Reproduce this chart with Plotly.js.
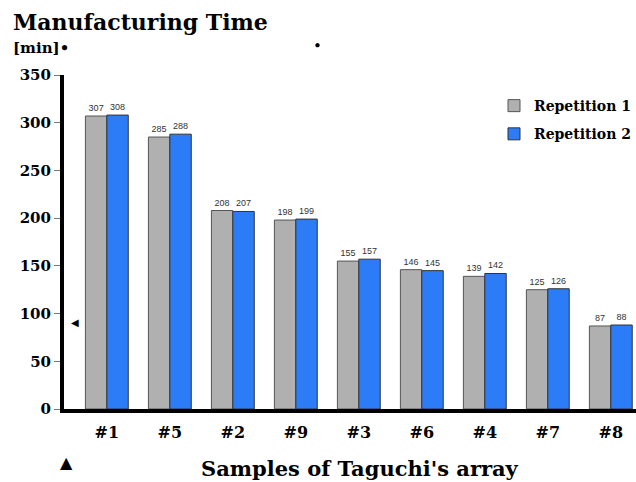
<!DOCTYPE html>
<html><head><meta charset="utf-8">
<script src="https://cdn.plot.ly/plotly-3.0.1.min.js"></script>
<style>html,body{margin:0;padding:0;background:#fff}</style>
</head><body><div id="chart" style="width:636px;height:482px"></div>
<script>
const samples = ["#1","#5","#2","#9","#3","#6","#4","#7","#8"];
const rep1 = [307,285,208,198,155,146,139,125,87];
const rep2 = [308,288,207,199,157,145,142,126,88];
const yTicks = [0,50,100,150,200,250,300,350];

const serif = "DejaVu Serif";
const labelFont = {family:"Liberation Sans, Arial, sans-serif", size:9, color:"#333"};

const traces = [
  {type:"bar", name:"Repetition 1", x:samples, y:rep1, text:rep1.map(String), legendgroup:"a",
   textposition:"outside", textfont:labelFont, cliponaxis:false,
   marker:{color:"#b0b0b0", line:{color:"#555", width:1}}},
  {type:"bar", name:"Repetition 2", x:samples, y:rep2, text:rep2.map(String), legendgroup:"b",
   textposition:"outside", textfont:labelFont, cliponaxis:false,
   marker:{color:"#2b7cf6", line:{color:"#333", width:1}}}
];

const layout = {
  width:636, height:482,
  margin:{l:64, r:0, t:75, b:73},
  paper_bgcolor:"#fff", plot_bgcolor:"#fff",
  barmode:"group", bargap:0.32, bargroupgap:0,
  showlegend:true,
  legend:{x:1.0, y:0.955, xanchor:"right", yanchor:"top", bgcolor:"rgba(0,0,0,0)",
    font:{family:serif, size:14, color:"#000", weight:"bold"}, itemwidth:30, tracegroupgap:7},
  xaxis:{type:"category", range:[-0.68,8.4], showline:true, linecolor:"#000", linewidth:4,
    ticks:"", showgrid:false, zeroline:false, automargin:false, ticklabelstandoff:6,
    tickfont:{family:serif, size:16, color:"#000", weight:"bold"}},
  yaxis:{range:[0,350], tickvals:yTicks, ticktext:yTicks.map(String), automargin:false,
    showline:true, linecolor:"#000", linewidth:4, ticks:"outside", ticklen:6, tickcolor:"#777", tickwidth:1,
    showgrid:false, zeroline:false,
    tickfont:{family:serif, size:15, color:"#000", weight:"bold"}},
  annotations:[
    {xref:"paper", yref:"paper", x:-0.092, y:1.159, xanchor:"left", yanchor:"middle", showarrow:false,
     text:"Manufacturing Time", font:{family:serif, size:22, color:"#000", weight:"bold"}},
    {xref:"paper", yref:"paper", x:-0.092, y:1.081, xanchor:"left", yanchor:"middle", showarrow:false,
     text:"[min]•", font:{family:serif, size:15, color:"#000", weight:"bold"}},
    {xref:"paper", yref:"paper", x:0.444, y:1.087, xanchor:"center", yanchor:"middle", showarrow:false,
     text:"•", font:{family:serif, size:15, color:"#000"}},
    {xref:"paper", yref:"paper", x:0.02, y:0.26, xanchor:"center", yanchor:"middle", showarrow:false,
     text:"◀", font:{family:"DejaVu Sans", size:10, color:"#000"}},
    {xref:"paper", yref:"paper", x:0.004, y:-0.159, xanchor:"center", yanchor:"middle", showarrow:false,
     text:"▲", font:{family:"DejaVu Sans", size:16, color:"#000"}},
    {xref:"paper", yref:"paper", x:0.517, y:-0.177, xanchor:"center", yanchor:"middle", showarrow:false,
     text:"Samples of Taguchi's array", font:{family:serif, size:21, color:"#000", weight:"bold"}}
  ]
};
Plotly.newPlot("chart", traces, layout, {displayModeBar:false, staticPlot:true});
</script></body></html>
